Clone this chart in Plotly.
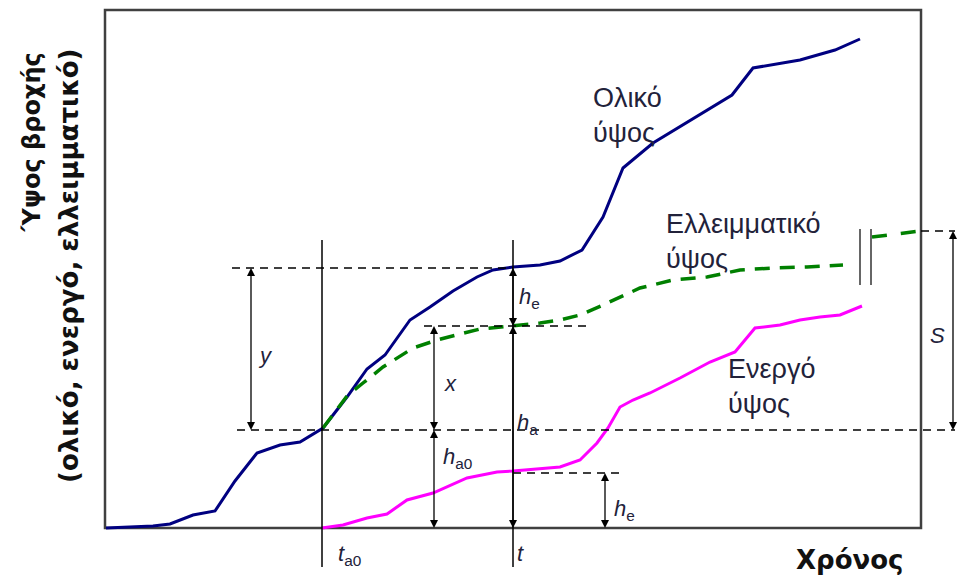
import plotly.graph_objects as go

# ---- data (time units, height units measured from the chart) ----
total_t = [1, 48, 65, 88, 110, 130, 152, 175, 195, 218, 242, 262, 280, 305, 325, 348, 372, 388, 408,
           435, 455, 477, 498, 518, 548, 578, 607, 627, 648, 670, 695, 730, 755]
total_h = [0, 2, 4, 13, 17, 47, 75, 83, 86, 100, 131, 159, 173, 208, 221, 237, 251, 258, 261,
           263, 267, 278, 311, 360, 385, 403, 421, 433, 460, 464, 468, 478, 489]

deficit_t = [218, 242, 258, 278, 308, 332, 375, 408, 435, 455, 475, 498, 535, 568, 602, 635, 668, 702, 738]
deficit_h = [100, 132, 145, 161, 180, 188, 199, 202, 205, 208, 213, 223, 240, 248, 251, 258, 260, 261, 263]
deficit_end_t = [767, 815]
deficit_end_h = [291, 297]

effective_t = [217, 238, 262, 282, 302, 328, 362, 392, 408, 455, 475, 492, 503, 515, 528, 545, 575,
               605, 630, 650, 675, 695, 715, 735, 757]
effective_h = [0, 3, 10, 14, 28, 35, 50, 56, 57, 61, 68, 85, 100, 121, 128, 135, 150,
               166, 176, 200, 203, 208, 211, 213, 222]

# key times and levels
T_A0 = 217
T_NOW = 408
T_Y = 146
T_X = 329
T_HE2 = 500
T_S = 848
T_END = 816
H_TOP = 518
LVL_Y = 260
LVL_X = 202
LVL_HA0 = 98
LVL_HE2 = 55
LVL_S = 297
BREAK_T = [755, 766]

# double arrows: (time, lower level, upper level)
arrows = [(T_Y, LVL_HA0, LVL_Y), (T_X, LVL_HA0, LVL_X), (T_X, 0, LVL_HA0), (T_NOW, LVL_X, LVL_Y),
          (T_NOW, 0, LVL_X), (T_HE2, 0, LVL_HE2), (T_S, LVL_HA0, LVL_S)]

fig = go.Figure()

# frame
fig.add_shape(type="rect", x0=0, x1=T_END, y0=0, y1=H_TOP, line=dict(color="#404040", width=2.5),
              layer="below")

# dashed guide lines
def hdash(x0, x1, y):
    fig.add_shape(type="line", x0=x0, x1=x1, y0=y, y1=y,
                  line=dict(color="black", width=1.3, dash="8px,6px"))

hdash(127, T_NOW, LVL_Y)
hdash(319, 485, LVL_X)
hdash(132, 850, LVL_HA0)
hdash(T_NOW, 520, LVL_HE2)
hdash(T_END, 850, LVL_S)

# vertical lines
for tv in (T_A0, T_NOW):
    fig.add_shape(type="line", x0=tv, x1=tv, y0=-39, y1=288, line=dict(color="black", width=1.5))
for tv in BREAK_T:
    fig.add_shape(type="line", x0=tv, x1=tv, y0=243, y1=299, line=dict(color="#333", width=1.5))

# arrow shafts
for (ta, h0, h1) in arrows:
    fig.add_shape(type="line", x0=ta, x1=ta, y0=h0 + 4, y1=h1 - 4, line=dict(color="black", width=1.3))

# curves
fig.add_trace(go.Scatter(x=total_t, y=total_h, mode="lines",
                         line=dict(color="#000080", width=3), hoverinfo="skip"))
fig.add_trace(go.Scatter(x=deficit_t, y=deficit_h, mode="lines",
                         line=dict(color="#008000", width=3.5, dash="15px,10px"), hoverinfo="skip"))
fig.add_trace(go.Scatter(x=deficit_end_t, y=deficit_end_h, mode="lines",
                         line=dict(color="#008000", width=3.5, dash="15px,14px"), hoverinfo="skip"))
fig.add_trace(go.Scatter(x=effective_t, y=effective_h, mode="lines",
                         line=dict(color="#FF00FF", width=3), hoverinfo="skip"))

# arrow heads
fig.add_trace(go.Scatter(x=[a[0] for a in arrows], y=[a[2] for a in arrows], mode="markers",
                         marker=dict(symbol="arrow-up", size=8, color="black", line=dict(width=0)),
                         hoverinfo="skip"))
fig.add_trace(go.Scatter(x=[a[0] for a in arrows], y=[a[1] for a in arrows], mode="markers",
                         marker=dict(symbol="arrow-down", size=8, color="black", line=dict(width=0)),
                         hoverinfo="skip"))

LBL = "#22223a"
def label(text, x, y, size=20, xanchor="center", family="Liberation Sans, Arial", **kw):
    fig.add_annotation(x=x, y=y, text=text, showarrow=False, xanchor=xanchor, yanchor="middle",
                       font=dict(family=family, size=size, color=LBL), **kw)

label("<i>y</i>", 160, 173, 22)
label("<i>x</i>", 345, 145, 22)
label("<i>h</i><sub>e</sub>", 424, 230, 22)
label("<i>h</i><sub>a</sub>", 422, 104, 22)
label("<i>h</i><sub>a0</sub>", 352, 70, 22)
label("<i>h</i><sub>e</sub>", 519, 18, 22)
label("<i>S</i>", 832, 193, 22)
label("<i>t</i><sub>a0</sub>", 244, -27, 22)
label("<i>t</i>", 415, -25, 22)

label("Ολικό<br>ύψος", 486, 413, 27, xanchor="left", align="left")
label("Ελλειμματικό<br>ύψος", 559, 287, 27, xanchor="left", align="left")
label("Ενεργό<br>ύψος", 621, 142, 27, xanchor="left", align="left")

fig.add_annotation(x=745, y=-32, text="<b>Χρόνος</b>", showarrow=False, xanchor="center", yanchor="middle",
                   font=dict(family="DejaVu Sans", size=26, color="#111"))
fig.add_annotation(x=-73, y=478, text="<b>΄Υψος βροχής</b>", showarrow=False, textangle=-90,
                   xanchor="center", yanchor="top", font=dict(family="DejaVu Sans", size=24, color="#111"))
fig.add_annotation(x=-36, y=481, text="<b>(ολικό, ενεργό, ελλειμματικό)</b>", showarrow=False, textangle=-90,
                   xanchor="center", yanchor="top", font=dict(family="DejaVu Sans", size=26, color="#111"))

fig.update_layout(width=959, height=581, autosize=False, margin=dict(l=0, r=0, t=0, b=0),
                  plot_bgcolor="white", paper_bgcolor="white", showlegend=False,
                  xaxis=dict(range=[-105, 854], visible=False, fixedrange=True),
                  yaxis=dict(range=[-53, 528], visible=False, fixedrange=True))

fig.write_html("out.html", config={"displayModeBar": False},
               post_script="document.body.style.margin='0px';document.body.style.overflow='hidden';")
